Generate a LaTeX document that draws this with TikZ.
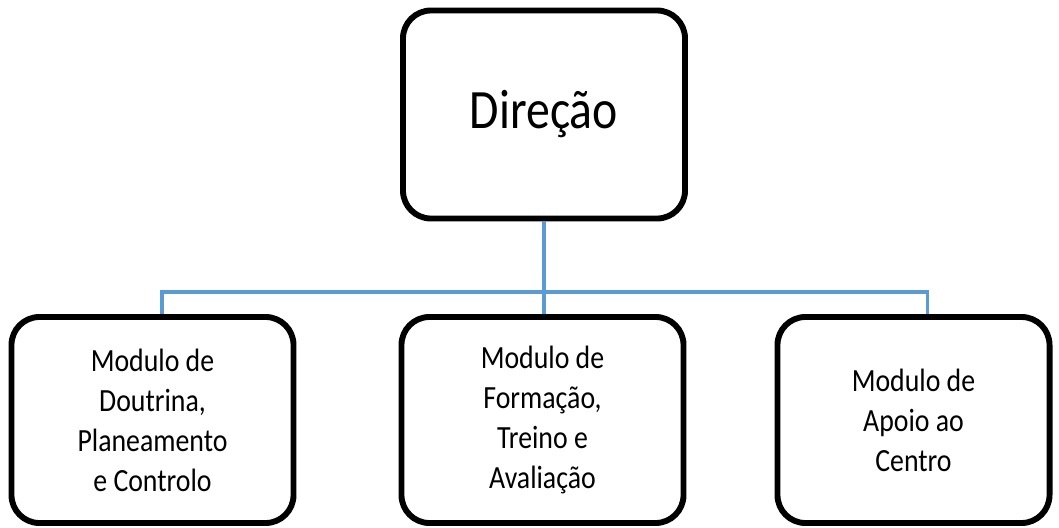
\documentclass[tikz,border=0pt]{standalone}
\usepackage{fontspec}
\setmainfont[FakeStretch=0.86]{Carlito}
\definecolor{linkblue}{RGB}{91,155,213}

\begin{document}
\begin{tikzpicture}[x=0.025cm, y=-0.025cm,
    box/.style={draw, line width=4.2pt, rounded corners=0.7cm, align=center,
                inner sep=0pt},
    link/.style={draw=linkblue, line width=2.4pt}]
            \useasboundingbox (0,0) rectangle (1059,527);

            \node[box, minimum width=7.05cm, minimum height=5.2cm,
                  font=\fontsize{39.5}{46}\selectfont] (dir) at (544,114.5) {Direção};
            \node[box, minimum width=7.05cm, minimum height=5.15cm,
                  font=\fontsize{23}{28.5}\selectfont] (dpc) at (152.5,420) {Modulo de\\Doutrina,\\Planeamento\\e Controlo};
            \node[box, minimum width=7.05cm, minimum height=5.15cm,
                  font=\fontsize{23}{28.5}\selectfont] (fta) at (542.5,420) {Modulo de\\Formação,\\Treino e\\Avaliação};
            \node[box, minimum width=6.8cm, minimum height=5.15cm,
                  font=\fontsize{23}{28.5}\selectfont] (apc) at (913.5,420) {Modulo de\\Apoio ao\\Centro};

            \coordinate (bus) at (544,292);

            \draw[link] (dir.south) -- (bus);
            \draw[link] (bus) -| ([xshift=0.24cm]dpc.north);
            \draw[link] (bus) -| ([xshift=0.35cm]apc.north);
            \draw[link] (bus) -- (fta.north -| bus);
        \end{tikzpicture}
\end{document}
